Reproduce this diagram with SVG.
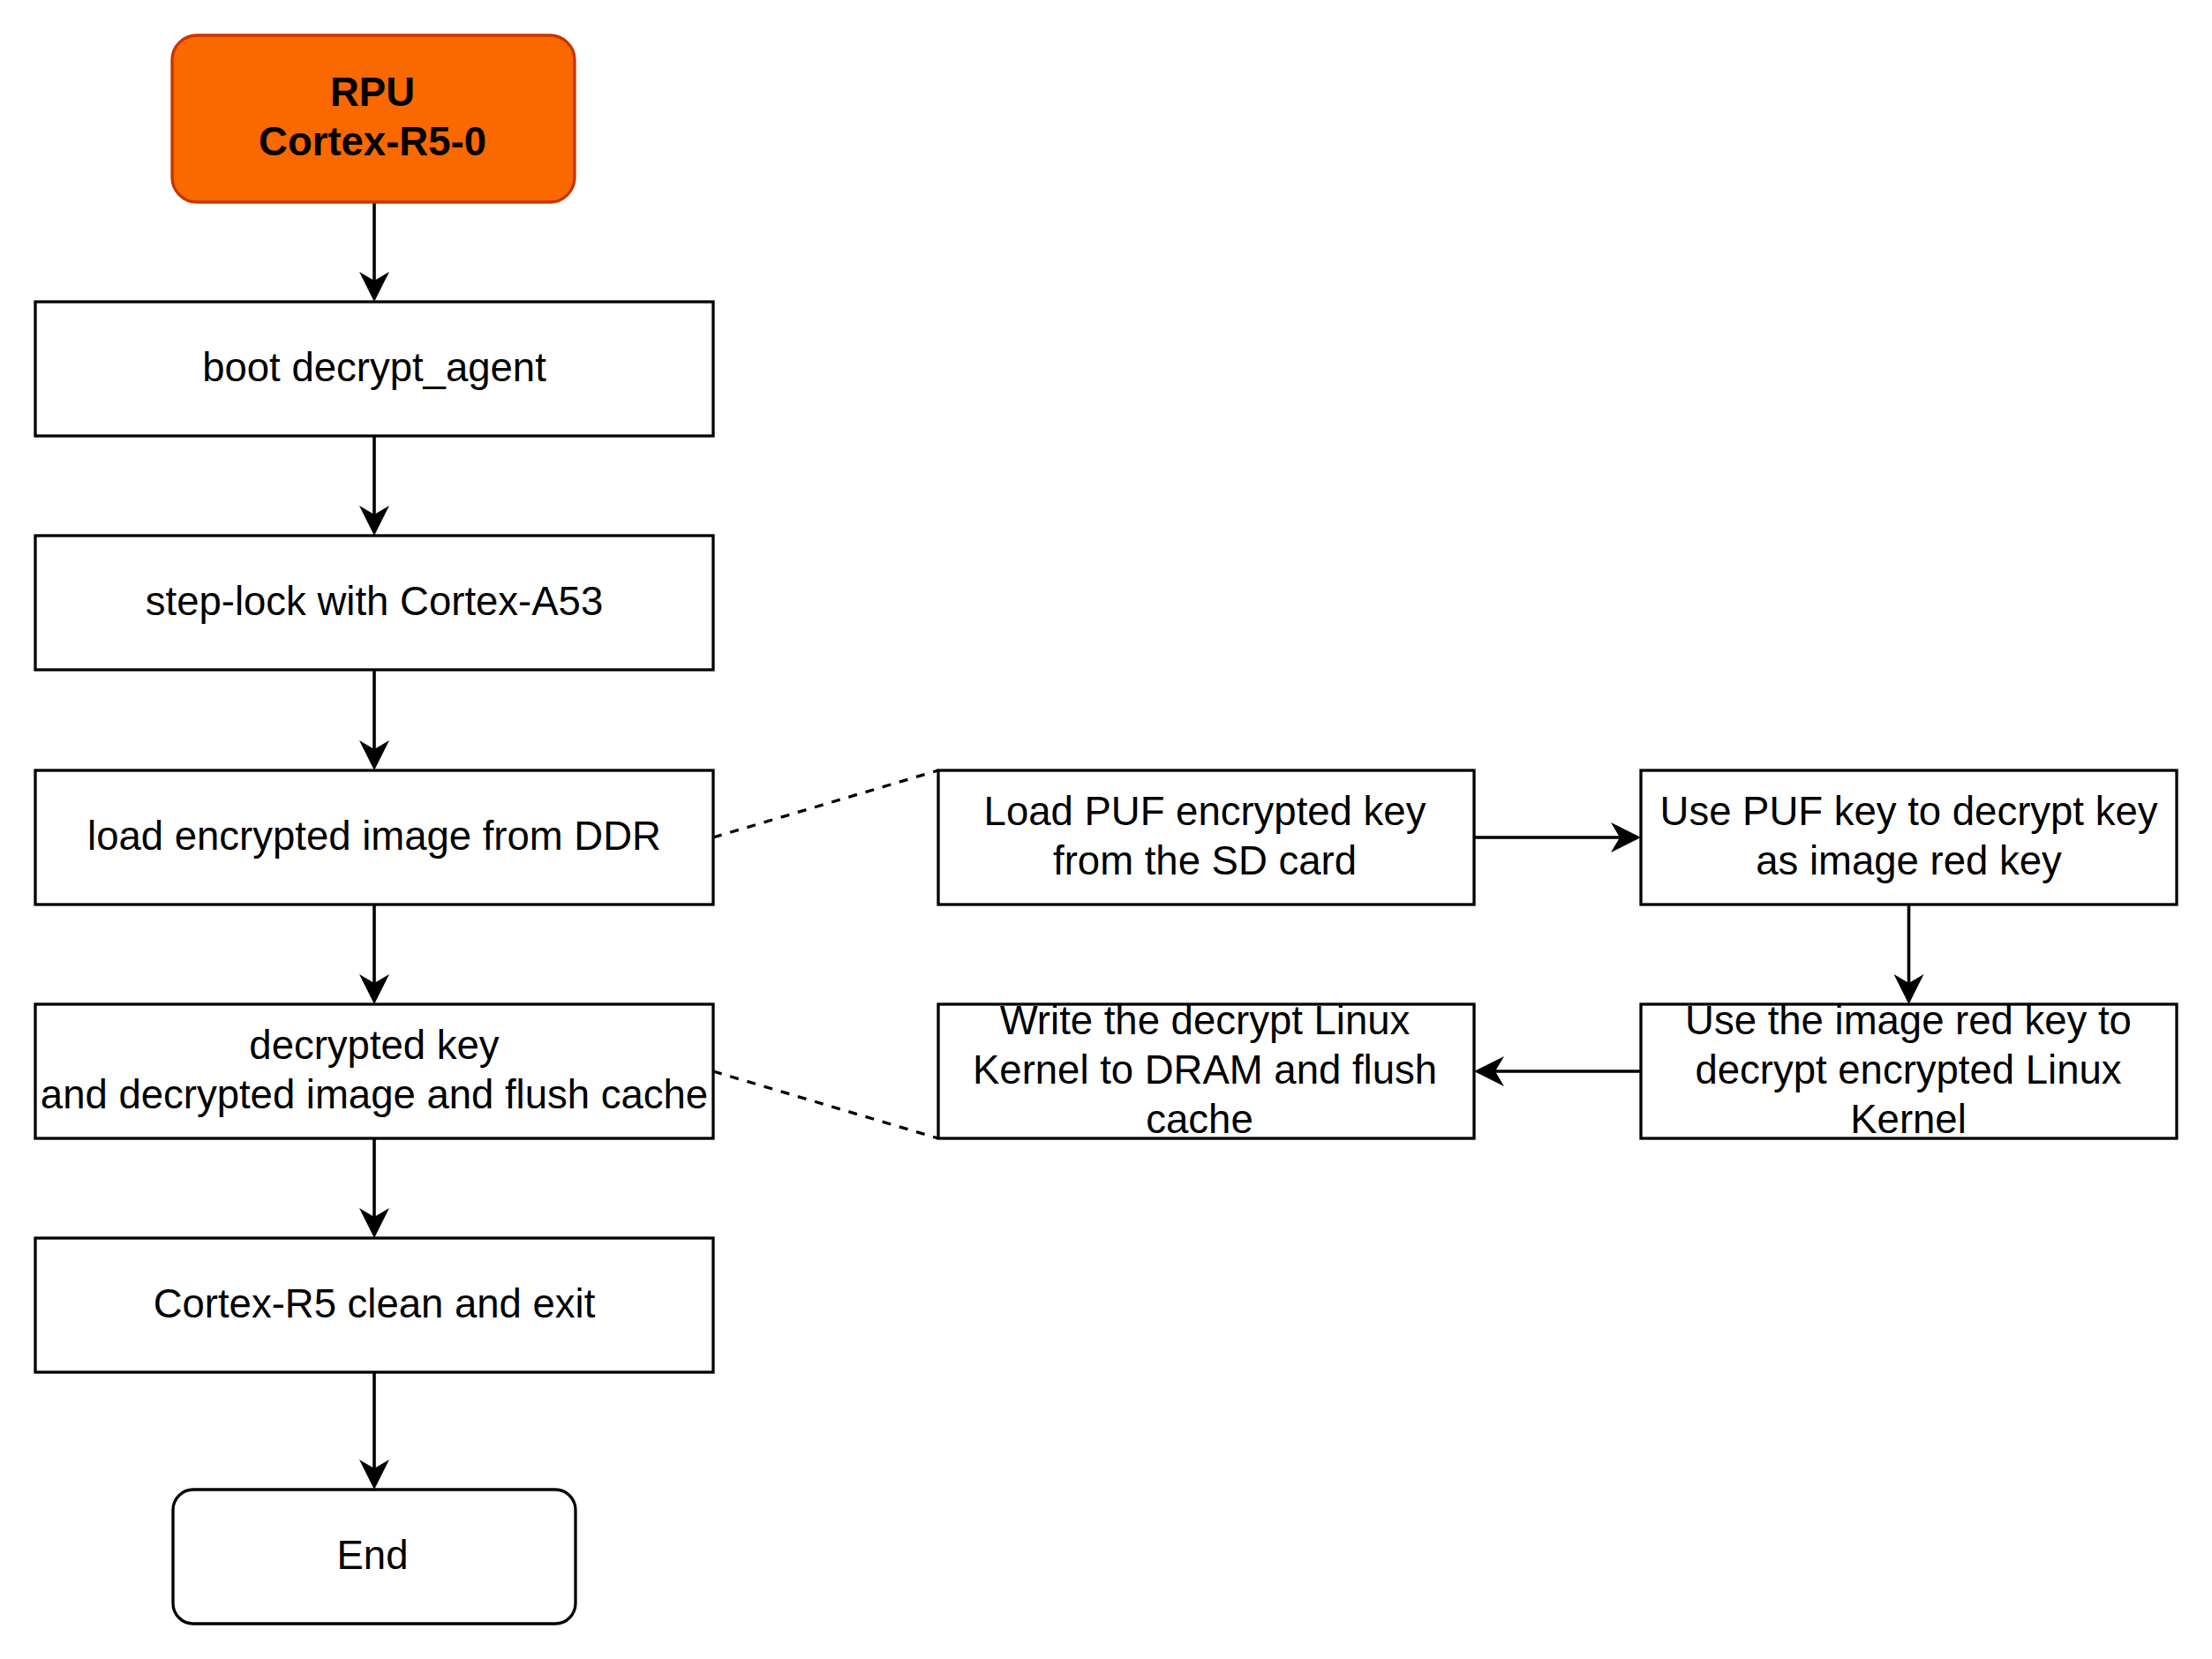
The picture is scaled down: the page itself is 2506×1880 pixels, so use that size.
<svg xmlns="http://www.w3.org/2000/svg" width="2506" height="1880" viewBox="0 0 2506 1880">
<defs>
<style>
.box{fill:#ffffff;stroke:#000000;stroke-width:3.3}
.rpu{fill:#fa6800;stroke:#c73500;stroke-width:3.3}
.t{font-family:"Liberation Sans",Arial,Helvetica,sans-serif;font-size:45.5px;fill:#000000;text-anchor:middle}
.b{font-weight:bold}
.edge{fill:none;stroke:#000000;stroke-width:3.6}
.dash{fill:none;stroke:#000000;stroke-width:3.3;stroke-dasharray:10 10}
</style>
<marker id="arr" viewBox="0 0 34 34" refX="10" refY="17" markerWidth="34" markerHeight="34" markerUnits="userSpaceOnUse" orient="auto">
<path d="M34,17 L0,0 L10,17 L0,34 Z" fill="#000000"/>
</marker>
</defs>
<rect width="2506" height="1880" fill="#ffffff"/>
<g id="connectors">
<line class="edge" x1="424" y1="229" x2="424" y2="318" marker-end="url(#arr)"/>
<line class="edge" x1="424" y1="494" x2="424" y2="583" marker-end="url(#arr)"/>
<line class="edge" x1="424" y1="759" x2="424" y2="849" marker-end="url(#arr)"/>
<line class="edge" x1="424" y1="1025" x2="424" y2="1114" marker-end="url(#arr)"/>
<line class="edge" x1="424" y1="1290" x2="424" y2="1379" marker-end="url(#arr)"/>
<line class="edge" x1="424" y1="1555" x2="424" y2="1664" marker-end="url(#arr)"/>
<line class="edge" x1="1670" y1="949" x2="1835" y2="949" marker-end="url(#arr)"/>
<line class="edge" x1="2162.5" y1="1025" x2="2162.5" y2="1114" marker-end="url(#arr)"/>
<line class="edge" x1="1859" y1="1214" x2="1694" y2="1214" marker-end="url(#arr)"/>
<line class="dash" x1="808" y1="949" x2="1063" y2="873"/>
<line class="dash" x1="808" y1="1214" x2="1063" y2="1290"/>
</g>
<g id="rpu">
<rect class="rpu" x="195" y="40" width="456" height="189" rx="28" ry="28"/>
<text class="t b" x="422" y="120">RPU</text>
<text class="t b" x="422" y="176">Cortex-R5-0</text>
</g>
<g id="boot">
<rect class="box" x="40" y="342" width="768" height="152"/>
<text class="t" x="424" y="432">boot decrypt_agent</text>
</g>
<g id="steplock">
<rect class="box" x="40" y="607" width="768" height="152"/>
<text class="t" x="424" y="697">step-lock with Cortex-A53</text>
</g>
<g id="load">
<rect class="box" x="40" y="873" width="768" height="152"/>
<text class="t" x="424" y="963">load encrypted image from DDR</text>
</g>
<g id="decrypted">
<rect class="box" x="40" y="1138" width="768" height="152"/>
<text class="t" x="424" y="1200">decrypted key</text>
<text class="t" x="424" y="1256">and decrypted image and flush cache</text>
</g>
<g id="clean">
<rect class="box" x="40" y="1403" width="768" height="152"/>
<text class="t" x="424" y="1493">Cortex-R5 clean and exit</text>
</g>
<g id="end">
<rect class="box" x="196" y="1688" width="456" height="152" rx="23" ry="23"/>
<text class="t" x="422" y="1778">End</text>
</g>
<g id="loadpuf">
<rect class="box" x="1063" y="873" width="607" height="152"/>
<text class="t" x="1365" y="935">Load PUF encrypted key</text>
<text class="t" x="1365" y="991">from the SD card</text>
</g>
<g id="usepuf">
<rect class="box" x="1859" y="873" width="607" height="152"/>
<text class="t" x="2162.5" y="935">Use PUF key to decrypt key</text>
<text class="t" x="2162.5" y="991">as image red key</text>
</g>
<g id="usered">
<rect class="box" x="1859" y="1138" width="607" height="152"/>
<text class="t" x="2162" y="1172">Use the image red key to</text>
<text class="t" x="2162" y="1228">decrypt encrypted Linux</text>
<text class="t" x="2162" y="1284">Kernel</text>
</g>
<g id="write">
<rect class="box" x="1063" y="1138" width="607" height="152"/>
<text class="t" x="1365" y="1172">Write the decrypt Linux</text>
<text class="t" x="1365" y="1228">Kernel to DRAM and flush</text>
<text class="t" x="1359" y="1284">cache</text>
</g>
</svg>
